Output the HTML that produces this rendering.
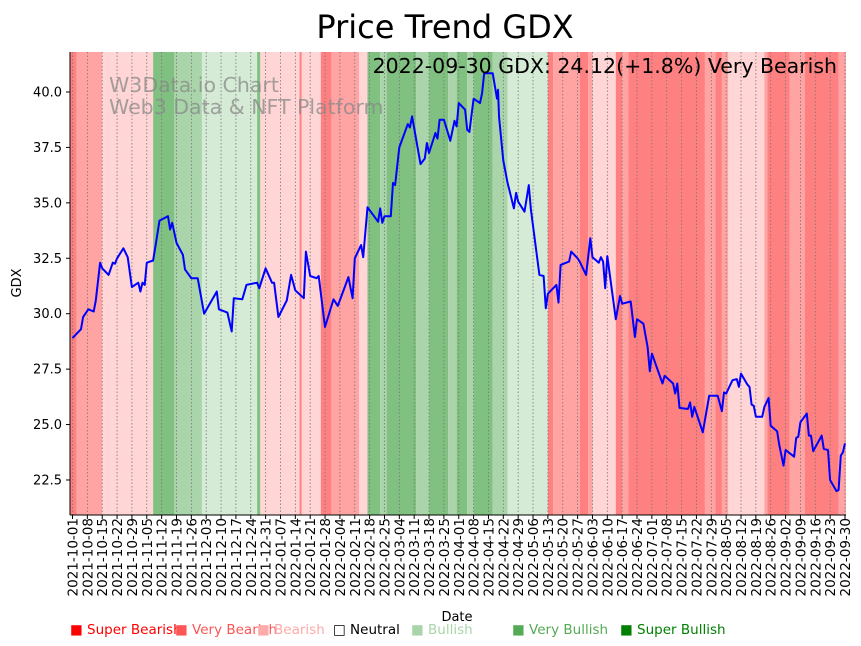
<!DOCTYPE html>
<html><head><meta charset="utf-8"><style>
body{margin:0;background:#fff;}
svg{display:block;font-family:"DejaVu Sans","Liberation Sans",sans-serif;}
</style></head><body>
<svg id="chart" width="861" height="646" viewBox="0 0 861 646" xmlns="http://www.w3.org/2000/svg">
<text x="445" y="38" font-size="32" text-anchor="middle">Price Trend GDX</text>
<g id="bands"></g>
<g id="grid"></g>
<g fill="#888" fill-opacity="0.75" font-size="20.5">
<text x="109" y="92">W3Data.io Chart</text>
<text x="109" y="114">Web3 Data &amp; NFT Platform</text>
</g>
<polyline id="line" fill="none" stroke="#0000ff" stroke-width="2" stroke-linejoin="round"/>
<text x="837" y="73" font-size="20.5" text-anchor="end">2022-09-30 GDX: 24.12(+1.8%) Very Bearish</text>
<g id="yaxis"></g>
<g id="xaxis"></g>
<line x1="70" y1="52" x2="70" y2="515" stroke="#000" stroke-width="1"/>
<line x1="70" y1="515" x2="846" y2="515" stroke="#000" stroke-width="1"/>
<text transform="translate(21,283) rotate(-90)" font-size="13" text-anchor="middle">GDX</text>
<text x="457" y="621" font-size="13" text-anchor="middle">Date</text>
<g id="legend" font-size="13.5"></g>
</svg>
<script>
const NS='http://www.w3.org/2000/svg';
const bandStarts=[0,2,14,38,48,61,87,88.5,107,108,117,122,135,139,145,148,162,168,177,181,186,189,198,205,224,226.5,239,243,245,256,259,262,298,303,306,309,326,327.5,338,345,361];
const bandEnd=364;
const bandCats=['VB','B','LB','SG','MG','LG','SG','LB','VB','LB','VB','B','LB','SG','MG','SG','MG','SG','MG','SG','MG','SG','MG','LG','VB','B','VB','B','LB','VB','B','VB','B','VB','B','LB','B','VB','B','VB','B'];
const days=[0,4,5,7.5,10,11,13,14,17,19,20,21,24,26,28,31,32,33,34,35,38,39,41,45,46,47,49,52,53,56,59,62,68,69,73,75,76,80,82,87,88,91,94,95,97,101,103,105,109,110,112,115,116,119,123,125,130,132,133,136,137,139,144,145,146,147,150,151,152,154,158,159,160,164,166,167,168,171,172,173,175,178,180,181,182,185,186,187,189,192,193,194,198,200,200.5,201,203,205,208,209,210,213,215,216,220,222,223,224,228,229,230,234,235,238,239,242,244,245,248,249,250,251,252,256,258,259,263,265,266,269,271,272,273,278,279,283,284,285,286,290,291,292,293,297,300,304,306,307,308,311,313,314,315,318,319,320,321,322,325,326,328,329,332,333,335,336,340,341,342,343,346,347,348,349,353,354,356,357,360,361,362,363,364];
const prices=[28.9,29.3,29.85,30.2,30.1,30.6,32.3,32.05,31.75,32.3,32.25,32.5,32.95,32.55,31.2,31.4,31.0,31.4,31.3,32.3,32.4,33.0,34.2,34.4,33.8,34.1,33.2,32.65,32.0,31.6,31.6,30.0,31.0,30.2,30.05,29.2,30.7,30.65,31.3,31.4,31.15,32.05,31.4,31.4,29.85,30.6,31.75,31.05,30.7,32.8,31.7,31.6,31.7,29.4,30.65,30.35,31.65,30.7,32.5,33.1,32.55,34.8,34.15,34.75,34.1,34.4,34.4,35.9,35.8,37.5,38.55,38.4,38.9,36.75,37.0,37.7,37.25,38.15,37.9,38.75,38.75,37.8,38.7,38.45,39.5,39.2,38.3,38.2,39.7,39.5,39.95,40.85,40.85,39.7,40.1,38.85,36.9,35.9,34.75,35.45,35.05,34.6,35.8,34.7,31.75,31.7,30.25,30.9,31.3,30.5,32.2,32.35,32.8,32.5,32.35,31.75,33.4,32.55,32.3,32.55,32.35,31.15,32.6,29.75,30.8,30.45,30.55,28.95,29.75,29.55,28.5,27.4,28.2,26.85,27.2,26.85,26.4,26.85,25.75,25.7,26.0,25.35,25.8,24.65,26.3,26.3,25.6,26.45,26.4,27.0,27.05,26.7,27.3,26.8,26.7,25.9,25.85,25.35,25.35,25.8,26.2,24.95,24.7,24.1,23.15,23.85,23.55,24.4,24.45,25.1,25.5,24.5,24.5,23.8,24.5,23.9,23.85,22.5,22.0,22.05,23.6,23.75,24.15];
const yTicks=[22.5,25.0,27.5,30.0,32.5,35.0,37.5,40.0];
const legendLabels=['Super Bearish','Very Bearish','Bearish','Neutral','Bullish','Very Bullish','Super Bullish'];
const legendColors=['#ff0000','#ff5555','#ffaaaa','#000000','#aad4aa','#55aa55','#008000'];

const X=d=>72.5+d*772.5/364;
const Y=v=>92+(40-v)*22.17;
const catColor={VB:'#ff8080',B:'#ffa3a3',LB:'#ffd5d5',SG:'#80c080',MG:'#aad5aa',LG:'#d5ebd5'};
const plotTop=52,plotBot=515;
const bandsG=document.getElementById('bands');
bandStarts.forEach((s,i)=>{
  const x0=Math.max(70,X(s)-(i===0?3:0));
  const x1=i+1<bandStarts.length?X(bandStarts[i+1]):846;
  const r=document.createElementNS(NS,'rect');
  r.setAttribute('x',x0);r.setAttribute('y',plotTop);r.setAttribute('width',Math.max(0,x1-x0));r.setAttribute('height',plotBot-plotTop);
  r.setAttribute('fill',catColor[bandCats[i]]);
  
  
  bandsG.appendChild(r);
});
const gridG=document.getElementById('grid'),xaG=document.getElementById('xaxis');
const startDate=new Date(Date.UTC(2021,9,1));
for(let d=0;d<=364;d+=7){
  const x=X(d);
  const l=document.createElementNS(NS,'line');
  l.setAttribute('x1',x);l.setAttribute('x2',x);l.setAttribute('y1',plotTop);l.setAttribute('y2',plotBot);
  l.setAttribute('stroke','#777');l.setAttribute('stroke-width','0.8');l.setAttribute('stroke-dasharray','1.5,2');
  
  
  gridG.appendChild(l);
  const t=document.createElementNS(NS,'line');
  t.setAttribute('x1',x);t.setAttribute('x2',x);t.setAttribute('y1',plotBot);t.setAttribute('y2',plotBot+4);t.setAttribute('stroke','#000');
  
  
  xaG.appendChild(t);
  const dt=new Date(startDate.getTime()+d*86400000);
  const tx=document.createElementNS(NS,'text');
  tx.setAttribute('transform','translate('+(x+5)+',518) rotate(-90)');
  tx.setAttribute('text-anchor','end');tx.setAttribute('font-size','13.5');
  tx.textContent=dt.toISOString().slice(0,10);
  
  
  xaG.appendChild(tx);
}
const yaG=document.getElementById('yaxis');
yTicks.forEach(v=>{
  const y=Y(v);
  const t=document.createElementNS(NS,'line');
  t.setAttribute('x1',66);t.setAttribute('x2',70);t.setAttribute('y1',y);t.setAttribute('y2',y);t.setAttribute('stroke','#000');
  
  
  yaG.appendChild(t);
  const tx=document.createElementNS(NS,'text');
  tx.setAttribute('x',62);tx.setAttribute('y',y+4.5);tx.setAttribute('text-anchor','end');tx.setAttribute('font-size','13');
  tx.textContent=v.toFixed(1);
  
  
  yaG.appendChild(tx);
});
document.getElementById('line').setAttribute('points',days.map((d,i)=>X(d).toFixed(1)+','+Y(prices[i]).toFixed(1)).join(' '));
const lgG=document.getElementById('legend');
const lx=[70,175,257,333,411,512,620];
legendLabels.forEach((s,i)=>{
  const tx=document.createElementNS(NS,'text');
  tx.setAttribute('x',lx[i]);tx.setAttribute('y',634);
  tx.setAttribute('fill',i===3?'#000':legendColors[i]);
  tx.textContent=(i===3?'□ ':'■ ')+s;
  
  
  lgG.appendChild(tx);
});
</script>
</body></html>
